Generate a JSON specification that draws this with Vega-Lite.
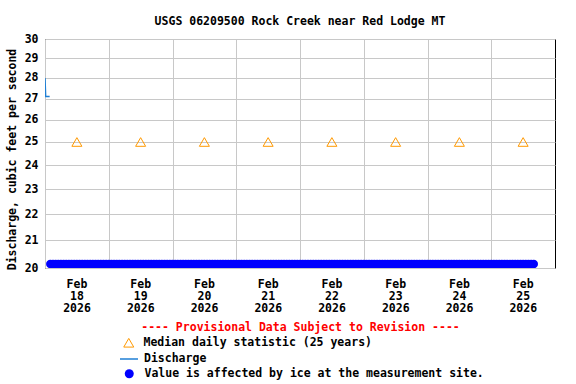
{
  "$schema": "https://vega.github.io/schema/vega-lite/v6.json",
  "width": 510,
  "height": 229,
  "autosize": {"type": "none"},
  "padding": {"left": 45, "top": 39, "right": 21, "bottom": 116},
  "background": "white",
  "title": {"text": "USGS 06209500 Rock Creek near Red Lodge MT", "anchor": "middle", "offset": 6, "font": "DejaVu Sans Mono", "fontSize": 11.5, "fontWeight": "bold", "color": "black"},
  "config": {
    "view": {"stroke": "black", "strokeWidth": 1},
    "font": "DejaVu Sans Mono",
    "axis": {"labelFont": "DejaVu Sans Mono", "labelFontSize": 11.5, "labelFontWeight": "bold", "labelColor": "black", "titleFont": "DejaVu Sans Mono", "titleFontSize": 11.5, "titleFontWeight": "bold", "titleColor": "black", "gridColor": "#c8c8c8", "gridWidth": 1, "ticks": false, "domain": false},
    "legend": {"labelFont": "DejaVu Sans Mono", "labelFontSize": 11.5, "labelFontWeight": "bold", "labelColor": "black", "labelLimit": 0, "padding": 0, "orient": "none", "title": null, "symbolOpacity": 1}
  },
  "resolve": {"scale": {"color": "independent"}, "legend": {"color": "independent"}},
  "datasets": {
    "discharge": [
      {"t": "2026-02-18T00:00:00Z", "q": 28.0},
      {"t": "2026-02-18T00:15:00Z", "q": 27.1},
      {"t": "2026-02-18T01:45:00Z", "q": 27.1}
    ],
    "median": [
      {"t": "2026-02-18T12:00:00Z", "q": 25},
      {"t": "2026-02-19T12:00:00Z", "q": 25},
      {"t": "2026-02-20T12:00:00Z", "q": 25},
      {"t": "2026-02-21T12:00:00Z", "q": 25},
      {"t": "2026-02-22T12:00:00Z", "q": 25},
      {"t": "2026-02-23T12:00:00Z", "q": 25},
      {"t": "2026-02-24T12:00:00Z", "q": 25},
      {"t": "2026-02-25T12:00:00Z", "q": 25}
    ],
    "ice": [
      {"t": "2026-02-18T02:00:00Z", "q": 20.14}, {"t": "2026-02-18T03:00:00Z", "q": 20.14}, {"t": "2026-02-18T04:00:00Z", "q": 20.14}, {"t": "2026-02-18T05:00:00Z", "q": 20.14}, {"t": "2026-02-18T06:00:00Z", "q": 20.14}, {"t": "2026-02-18T07:00:00Z", "q": 20.14}, {"t": "2026-02-18T08:00:00Z", "q": 20.14}, {"t": "2026-02-18T09:00:00Z", "q": 20.14}, {"t": "2026-02-18T10:00:00Z", "q": 20.14}, {"t": "2026-02-18T11:00:00Z", "q": 20.14}, {"t": "2026-02-18T12:00:00Z", "q": 20.14}, {"t": "2026-02-18T13:00:00Z", "q": 20.14}, {"t": "2026-02-18T14:00:00Z", "q": 20.14}, {"t": "2026-02-18T15:00:00Z", "q": 20.14}, {"t": "2026-02-18T16:00:00Z", "q": 20.14}, {"t": "2026-02-18T17:00:00Z", "q": 20.14}, {"t": "2026-02-18T18:00:00Z", "q": 20.14}, {"t": "2026-02-18T19:00:00Z", "q": 20.14}, {"t": "2026-02-18T20:00:00Z", "q": 20.14}, {"t": "2026-02-18T21:00:00Z", "q": 20.14}, {"t": "2026-02-18T22:00:00Z", "q": 20.14}, {"t": "2026-02-18T23:00:00Z", "q": 20.14},
      {"t": "2026-02-19T00:00:00Z", "q": 20.14}, {"t": "2026-02-19T01:00:00Z", "q": 20.14}, {"t": "2026-02-19T02:00:00Z", "q": 20.14}, {"t": "2026-02-19T03:00:00Z", "q": 20.14}, {"t": "2026-02-19T04:00:00Z", "q": 20.14}, {"t": "2026-02-19T05:00:00Z", "q": 20.14}, {"t": "2026-02-19T06:00:00Z", "q": 20.14}, {"t": "2026-02-19T07:00:00Z", "q": 20.14}, {"t": "2026-02-19T08:00:00Z", "q": 20.14}, {"t": "2026-02-19T09:00:00Z", "q": 20.14}, {"t": "2026-02-19T10:00:00Z", "q": 20.14}, {"t": "2026-02-19T11:00:00Z", "q": 20.14}, {"t": "2026-02-19T12:00:00Z", "q": 20.14}, {"t": "2026-02-19T13:00:00Z", "q": 20.14}, {"t": "2026-02-19T14:00:00Z", "q": 20.14}, {"t": "2026-02-19T15:00:00Z", "q": 20.14}, {"t": "2026-02-19T16:00:00Z", "q": 20.14}, {"t": "2026-02-19T17:00:00Z", "q": 20.14}, {"t": "2026-02-19T18:00:00Z", "q": 20.14}, {"t": "2026-02-19T19:00:00Z", "q": 20.14}, {"t": "2026-02-19T20:00:00Z", "q": 20.14}, {"t": "2026-02-19T21:00:00Z", "q": 20.14}, {"t": "2026-02-19T22:00:00Z", "q": 20.14}, {"t": "2026-02-19T23:00:00Z", "q": 20.14},
      {"t": "2026-02-20T00:00:00Z", "q": 20.14}, {"t": "2026-02-20T01:00:00Z", "q": 20.14}, {"t": "2026-02-20T02:00:00Z", "q": 20.14}, {"t": "2026-02-20T03:00:00Z", "q": 20.14}, {"t": "2026-02-20T04:00:00Z", "q": 20.14}, {"t": "2026-02-20T05:00:00Z", "q": 20.14}, {"t": "2026-02-20T06:00:00Z", "q": 20.14}, {"t": "2026-02-20T07:00:00Z", "q": 20.14}, {"t": "2026-02-20T08:00:00Z", "q": 20.14}, {"t": "2026-02-20T09:00:00Z", "q": 20.14}, {"t": "2026-02-20T10:00:00Z", "q": 20.14}, {"t": "2026-02-20T11:00:00Z", "q": 20.14}, {"t": "2026-02-20T12:00:00Z", "q": 20.14}, {"t": "2026-02-20T13:00:00Z", "q": 20.14}, {"t": "2026-02-20T14:00:00Z", "q": 20.14}, {"t": "2026-02-20T15:00:00Z", "q": 20.14}, {"t": "2026-02-20T16:00:00Z", "q": 20.14}, {"t": "2026-02-20T17:00:00Z", "q": 20.14}, {"t": "2026-02-20T18:00:00Z", "q": 20.14}, {"t": "2026-02-20T19:00:00Z", "q": 20.14}, {"t": "2026-02-20T20:00:00Z", "q": 20.14}, {"t": "2026-02-20T21:00:00Z", "q": 20.14}, {"t": "2026-02-20T22:00:00Z", "q": 20.14}, {"t": "2026-02-20T23:00:00Z", "q": 20.14},
      {"t": "2026-02-21T00:00:00Z", "q": 20.14}, {"t": "2026-02-21T01:00:00Z", "q": 20.14}, {"t": "2026-02-21T02:00:00Z", "q": 20.14}, {"t": "2026-02-21T03:00:00Z", "q": 20.14}, {"t": "2026-02-21T04:00:00Z", "q": 20.14}, {"t": "2026-02-21T05:00:00Z", "q": 20.14}, {"t": "2026-02-21T06:00:00Z", "q": 20.14}, {"t": "2026-02-21T07:00:00Z", "q": 20.14}, {"t": "2026-02-21T08:00:00Z", "q": 20.14}, {"t": "2026-02-21T09:00:00Z", "q": 20.14}, {"t": "2026-02-21T10:00:00Z", "q": 20.14}, {"t": "2026-02-21T11:00:00Z", "q": 20.14}, {"t": "2026-02-21T12:00:00Z", "q": 20.14}, {"t": "2026-02-21T13:00:00Z", "q": 20.14}, {"t": "2026-02-21T14:00:00Z", "q": 20.14}, {"t": "2026-02-21T15:00:00Z", "q": 20.14}, {"t": "2026-02-21T16:00:00Z", "q": 20.14}, {"t": "2026-02-21T17:00:00Z", "q": 20.14}, {"t": "2026-02-21T18:00:00Z", "q": 20.14}, {"t": "2026-02-21T19:00:00Z", "q": 20.14}, {"t": "2026-02-21T20:00:00Z", "q": 20.14}, {"t": "2026-02-21T21:00:00Z", "q": 20.14}, {"t": "2026-02-21T22:00:00Z", "q": 20.14}, {"t": "2026-02-21T23:00:00Z", "q": 20.14},
      {"t": "2026-02-22T00:00:00Z", "q": 20.14}, {"t": "2026-02-22T01:00:00Z", "q": 20.14}, {"t": "2026-02-22T02:00:00Z", "q": 20.14}, {"t": "2026-02-22T03:00:00Z", "q": 20.14}, {"t": "2026-02-22T04:00:00Z", "q": 20.14}, {"t": "2026-02-22T05:00:00Z", "q": 20.14}, {"t": "2026-02-22T06:00:00Z", "q": 20.14}, {"t": "2026-02-22T07:00:00Z", "q": 20.14}, {"t": "2026-02-22T08:00:00Z", "q": 20.14}, {"t": "2026-02-22T09:00:00Z", "q": 20.14}, {"t": "2026-02-22T10:00:00Z", "q": 20.14}, {"t": "2026-02-22T11:00:00Z", "q": 20.14}, {"t": "2026-02-22T12:00:00Z", "q": 20.14}, {"t": "2026-02-22T13:00:00Z", "q": 20.14}, {"t": "2026-02-22T14:00:00Z", "q": 20.14}, {"t": "2026-02-22T15:00:00Z", "q": 20.14}, {"t": "2026-02-22T16:00:00Z", "q": 20.14}, {"t": "2026-02-22T17:00:00Z", "q": 20.14}, {"t": "2026-02-22T18:00:00Z", "q": 20.14}, {"t": "2026-02-22T19:00:00Z", "q": 20.14}, {"t": "2026-02-22T20:00:00Z", "q": 20.14}, {"t": "2026-02-22T21:00:00Z", "q": 20.14}, {"t": "2026-02-22T22:00:00Z", "q": 20.14}, {"t": "2026-02-22T23:00:00Z", "q": 20.14},
      {"t": "2026-02-23T00:00:00Z", "q": 20.14}, {"t": "2026-02-23T01:00:00Z", "q": 20.14}, {"t": "2026-02-23T02:00:00Z", "q": 20.14}, {"t": "2026-02-23T03:00:00Z", "q": 20.14}, {"t": "2026-02-23T04:00:00Z", "q": 20.14}, {"t": "2026-02-23T05:00:00Z", "q": 20.14}, {"t": "2026-02-23T06:00:00Z", "q": 20.14}, {"t": "2026-02-23T07:00:00Z", "q": 20.14}, {"t": "2026-02-23T08:00:00Z", "q": 20.14}, {"t": "2026-02-23T09:00:00Z", "q": 20.14}, {"t": "2026-02-23T10:00:00Z", "q": 20.14}, {"t": "2026-02-23T11:00:00Z", "q": 20.14}, {"t": "2026-02-23T12:00:00Z", "q": 20.14}, {"t": "2026-02-23T13:00:00Z", "q": 20.14}, {"t": "2026-02-23T14:00:00Z", "q": 20.14}, {"t": "2026-02-23T15:00:00Z", "q": 20.14}, {"t": "2026-02-23T16:00:00Z", "q": 20.14}, {"t": "2026-02-23T17:00:00Z", "q": 20.14}, {"t": "2026-02-23T18:00:00Z", "q": 20.14}, {"t": "2026-02-23T19:00:00Z", "q": 20.14}, {"t": "2026-02-23T20:00:00Z", "q": 20.14}, {"t": "2026-02-23T21:00:00Z", "q": 20.14}, {"t": "2026-02-23T22:00:00Z", "q": 20.14}, {"t": "2026-02-23T23:00:00Z", "q": 20.14},
      {"t": "2026-02-24T00:00:00Z", "q": 20.14}, {"t": "2026-02-24T01:00:00Z", "q": 20.14}, {"t": "2026-02-24T02:00:00Z", "q": 20.14}, {"t": "2026-02-24T03:00:00Z", "q": 20.14}, {"t": "2026-02-24T04:00:00Z", "q": 20.14}, {"t": "2026-02-24T05:00:00Z", "q": 20.14}, {"t": "2026-02-24T06:00:00Z", "q": 20.14}, {"t": "2026-02-24T07:00:00Z", "q": 20.14}, {"t": "2026-02-24T08:00:00Z", "q": 20.14}, {"t": "2026-02-24T09:00:00Z", "q": 20.14}, {"t": "2026-02-24T10:00:00Z", "q": 20.14}, {"t": "2026-02-24T11:00:00Z", "q": 20.14}, {"t": "2026-02-24T12:00:00Z", "q": 20.14}, {"t": "2026-02-24T13:00:00Z", "q": 20.14}, {"t": "2026-02-24T14:00:00Z", "q": 20.14}, {"t": "2026-02-24T15:00:00Z", "q": 20.14}, {"t": "2026-02-24T16:00:00Z", "q": 20.14}, {"t": "2026-02-24T17:00:00Z", "q": 20.14}, {"t": "2026-02-24T18:00:00Z", "q": 20.14}, {"t": "2026-02-24T19:00:00Z", "q": 20.14}, {"t": "2026-02-24T20:00:00Z", "q": 20.14}, {"t": "2026-02-24T21:00:00Z", "q": 20.14}, {"t": "2026-02-24T22:00:00Z", "q": 20.14}, {"t": "2026-02-24T23:00:00Z", "q": 20.14},
      {"t": "2026-02-25T00:00:00Z", "q": 20.14}, {"t": "2026-02-25T01:00:00Z", "q": 20.14}, {"t": "2026-02-25T02:00:00Z", "q": 20.14}, {"t": "2026-02-25T03:00:00Z", "q": 20.14}, {"t": "2026-02-25T04:00:00Z", "q": 20.14}, {"t": "2026-02-25T05:00:00Z", "q": 20.14}, {"t": "2026-02-25T06:00:00Z", "q": 20.14}, {"t": "2026-02-25T07:00:00Z", "q": 20.14}, {"t": "2026-02-25T08:00:00Z", "q": 20.14}, {"t": "2026-02-25T09:00:00Z", "q": 20.14}, {"t": "2026-02-25T10:00:00Z", "q": 20.14}, {"t": "2026-02-25T11:00:00Z", "q": 20.14}, {"t": "2026-02-25T12:00:00Z", "q": 20.14}, {"t": "2026-02-25T13:00:00Z", "q": 20.14}, {"t": "2026-02-25T14:00:00Z", "q": 20.14}, {"t": "2026-02-25T15:00:00Z", "q": 20.14}, {"t": "2026-02-25T16:00:00Z", "q": 20.14}
    ]
  },
  "encoding": {
    "x": {
      "field": "t", "type": "temporal",
      "scale": {"type": "utc", "domain": [{"year": 2026, "month": 2, "date": 18, "utc": true}, {"year": 2026, "month": 2, "date": 26, "utc": true}], "nice": false},
      "axis": {
        "values": [
          {"year": 2026, "month": 2, "date": 18, "utc": true},
          {"year": 2026, "month": 2, "date": 19, "utc": true},
          {"year": 2026, "month": 2, "date": 20, "utc": true},
          {"year": 2026, "month": 2, "date": 21, "utc": true},
          {"year": 2026, "month": 2, "date": 22, "utc": true},
          {"year": 2026, "month": 2, "date": 23, "utc": true},
          {"year": 2026, "month": 2, "date": 24, "utc": true},
          {"year": 2026, "month": 2, "date": 25, "utc": true}
        ],
        "labelExpr": "[utcFormat(datum.value, '%b'), utcFormat(datum.value, '%d'), utcFormat(datum.value, '%Y')]",
        "labelOffset": 31.5,
        "labelFlush": false,
        "labelOverlap": false,
        "labelPadding": 10,
        "labelLineHeight": 12,
        "grid": true,
        "title": "---- Provisional Data Subject to Revision ----",
        "titleColor": "#ff0000",
        "titlePadding": 8
      }
    },
    "y": {
      "field": "q", "type": "quantitative",
      "scale": {"type": "log", "domain": [20, 30], "nice": false},
      "axis": {
        "values": [20, 21, 22, 23, 24, 25, 26, 27, 28, 29, 30],
        "format": "d",
        "labelPadding": 7,
        "grid": true,
        "title": "Discharge, cubic feet per second",
        "titlePadding": 7,
        "titleY": 120
      }
    }
  },
  "layer": [
    {
      "data": {"name": "discharge"},
      "mark": {"type": "line", "strokeWidth": 1.5, "clip": true},
      "encoding": {
        "color": {
          "datum": "Discharge", "type": "nominal",
          "scale": {"domain": ["Discharge"], "range": ["#1f7fd4"]},
          "legend": {"orient": "none", "legendX": 74, "legendY": 310, "symbolSize": 324, "symbolStrokeWidth": 1.5, "labelOffset": 5}
        }
      }
    },
    {
      "data": {"name": "median"},
      "mark": {"type": "point", "shape": "triangle-up", "filled": false, "size": 100, "strokeWidth": 1, "opacity": 1},
      "encoding": {
        "color": {
          "datum": "Median daily statistic (25 years)", "type": "nominal",
          "scale": {"domain": ["Median daily statistic (25 years)"], "range": ["#ff9900"]},
          "legend": {"orient": "none", "legendX": 78, "legendY": 298, "symbolSize": 100, "symbolStrokeWidth": 1, "labelOffset": 9}
        }
      }
    },
    {
      "data": {"name": "ice"},
      "mark": {"type": "point", "shape": "circle", "filled": true, "size": 72, "opacity": 1, "clip": true},
      "encoding": {
        "color": {
          "datum": "Value is affected by ice at the measurement site.", "type": "nominal",
          "scale": {"domain": ["Value is affected by ice at the measurement site."], "range": ["#0000ff"]},
          "legend": {"orient": "none", "legendX": 78.5, "legendY": 329, "symbolSize": 81, "labelOffset": 9.5}
        }
      }
    }
  ]
}
